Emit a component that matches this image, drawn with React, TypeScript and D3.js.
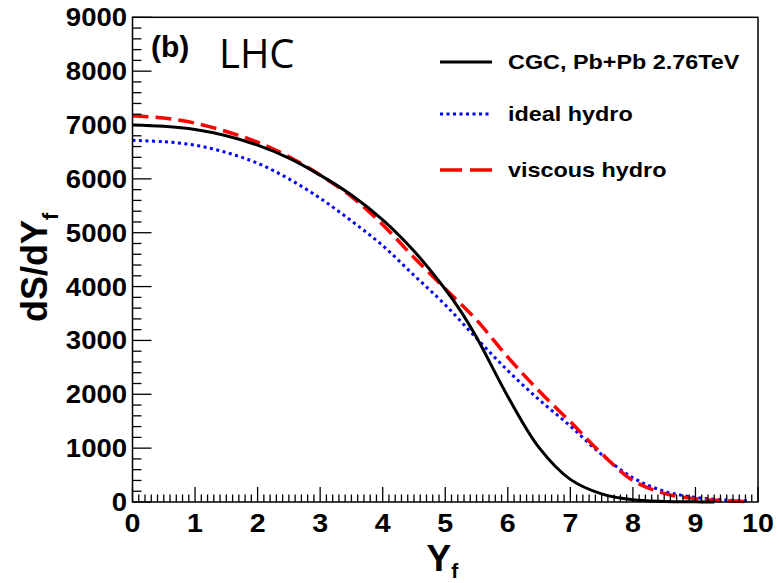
import React from "react";
import * as d3 from "d3";

const xs = [0, 0.5, 1, 1.5, 2, 2.5, 3, 3.5, 4, 4.5, 5, 5.25, 5.5, 6, 6.5, 7, 7.5, 8, 8.5, 9, 9.3];
const cgc = [7000, 6975, 6915, 6800, 6625, 6385, 6070, 5700, 5240, 4660, 3950, 3540, 3060, 1960, 1010, 420, 150, 40, 10, 3, 0];

const xsIdeal = [0, 0.5, 1, 1.5, 2, 2.5, 3, 3.5, 4, 4.5, 5, 5.5, 6, 6.5, 7, 7.5, 8, 8.5, 9, 9.5, 9.85];
const ideal = [6715, 6690, 6625, 6490, 6290, 6000, 5640, 5220, 4760, 4210, 3660, 3040, 2440, 1900, 1410, 880, 450, 200, 85, 37, 20];

const xsVisc = [0, 0.5, 1, 1.5, 2, 2.5, 3, 3.5, 4, 4.5, 5, 5.5, 6, 6.5, 7, 7.5, 8, 8.5, 9, 9.5, 9.8];
const viscous = [7170, 7130, 7035, 6880, 6680, 6410, 6070, 5670, 5150, 4540, 3960, 3380, 2690, 2060, 1490, 900, 400, 160, 60, 24, 10];

const xTicks = [0, 1, 2, 3, 4, 5, 6, 7, 8, 9, 10];
const yTicks = [0, 1000, 2000, 3000, 4000, 5000, 6000, 7000, 8000, 9000];
const legendLabels = ["CGC, Pb+Pb 2.76TeV", "ideal hydro", "viscous hydro"];

const FONT = "'Liberation Sans', Arial, Helvetica, sans-serif";

export default function App() {
  const left = 132.5, right = 758, top = 17.3, bottom = 502;
  const x = d3.scaleLinear().domain([0, 10]).range([left, right]);
  const y = d3.scaleLinear().domain([0, 9000]).range([bottom, top]);

  const line = d3
    .line<[number, number]>()
    .x((d) => x(d[0]))
    .y((d) => y(d[1]))
    .curve(d3.curveCatmullRom.alpha(0.5));

  const pCgc = line(xs.map((v, i) => [v, cgc[i]]) as [number, number][]) || "";
  const pIdeal = line(xsIdeal.map((v, i) => [v, ideal[i]]) as [number, number][]) || "";
  const pVisc = line(xsVisc.map((v, i) => [v, viscous[i]]) as [number, number][]) || "";

  const xMinor = d3.range(0, 100).map((i) => i / 10).filter((v) => Math.abs(v - Math.round(v)) > 1e-6);
  const yMinor = d3.range(0, 45).map((i) => i * 200).filter((v) => v % 1000 !== 0);

  const legendY = [62, 114, 170];
  const styles = [
    { stroke: "#000", dash: "none", w: 3 },
    { stroke: "#0000ff", dash: "3,3.5", w: 3 },
    { stroke: "#ff0000", dash: "22,8", w: 3.5 },
  ];

  return (
    <svg
      width={779}
      height={583}
      style={{ position: "absolute", left: 0, top: 0, background: "#fff" }}
      fontFamily={FONT}
    >
      <rect x={0} y={0} width={779} height={583} fill="#fff" />
      {/* curves */}
      <path d={pIdeal} fill="none" stroke="#0000ff" strokeWidth={3} strokeDasharray="3,3.5" />
      <path d={pVisc} fill="none" stroke="#ff0000" strokeWidth={3.5} strokeDasharray="16,7" />
      <path d={pCgc} fill="none" stroke="#000" strokeWidth={3} />

      {/* frame */}
      <rect x={left} y={top} width={right - left} height={bottom - top} fill="none" stroke="#000" strokeWidth={1.5} />

      {/* x ticks */}
      {xTicks.map((t) => (
        <line key={"xt" + t} x1={x(t)} x2={x(t)} y1={bottom} y2={bottom - 15} stroke="#000" strokeWidth={1.3} />
      ))}
      {xMinor.map((t) => (
        <line key={"xm" + t} x1={x(t)} x2={x(t)} y1={bottom} y2={bottom - 7.5} stroke="#000" strokeWidth={1.3} />
      ))}
      {/* y ticks */}
      {yTicks.map((t) => (
        <line key={"yt" + t} x1={left} x2={left + 19} y1={y(t)} y2={y(t)} stroke="#000" strokeWidth={1.3} />
      ))}
      {yMinor.map((t) => (
        <line key={"ym" + t} x1={left} x2={left + 9} y1={y(t)} y2={y(t)} stroke="#000" strokeWidth={1.3} />
      ))}

      {/* tick labels */}
      {xTicks.map((t) => (
        <text
          key={"xl" + t}
          transform={`translate(${x(t)},532) scale(1.1,1)`}
          textAnchor="middle"
          fontSize={26}
          fontWeight="bold"
        >
          {t}
        </text>
      ))}
      {yTicks.map((t) => (
        <text
          key={"yl" + t}
          transform={`translate(127,${y(t) + 9}) scale(1.1,1)`}
          textAnchor="end"
          fontSize={25}
          fontWeight="bold"
        >
          {t}
        </text>
      ))}

      {/* axis titles */}
      <text x={426.5} y={571} fontSize={37} fontWeight="bold">
        Y<tspan fontSize={21} dy={7}>f</tspan>
      </text>
      <text transform="translate(47,322) rotate(-90)" textAnchor="start" fontSize={36} fontWeight="bold">
        dS/dY<tspan fontSize={22} dy={11}>f</tspan>
      </text>

      {/* labels */}
      <text x={151} y={57} fontSize={30} fontWeight="bold">(b)</text>
      <text x={219} y={68} fontSize={40} fontFamily="'Open Sans', sans-serif">LHC</text>

      {/* legend */}
      {legendLabels.map((lab, i) => (
        <g key={lab}>
          <line
            x1={440}
            x2={492}
            y1={legendY[i]}
            y2={legendY[i]}
            stroke={styles[i].stroke}
            strokeWidth={styles[i].w}
            strokeDasharray={styles[i].dash}
          />
          <text
            transform={`translate(508,${legendY[i] + 7}) scale(1.2,1)`}
            fontSize={19.5}
            fontWeight="bold"
          >
            {lab}
          </text>
        </g>
      ))}
    </svg>
  );
}
